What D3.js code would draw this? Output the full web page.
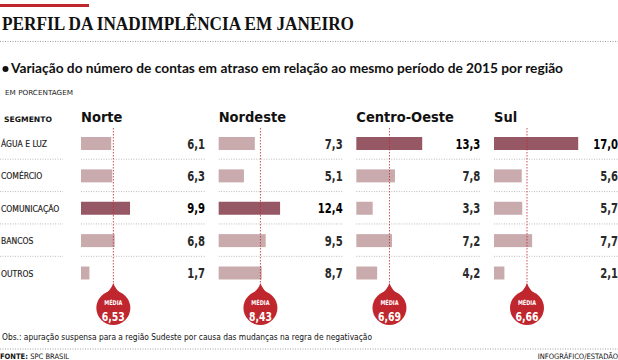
<!DOCTYPE html>
<html><head><meta charset="utf-8">
<script src="https://cdn.jsdelivr.net/npm/d3@7"></script>
<style>
body{margin:0;background:#fff;}
svg{display:block;}
.cond{font-family:"DejaVu Sans Condensed","Liberation Sans Narrow","Roboto",sans-serif;}
</style></head>
<body>
<svg id="c" width="618" height="360"></svg>
<script>
const segments = ["ÁGUA E LUZ","COMÉRCIO","COMUNICAÇÃO","BANCOS","OUTROS"];
const regions = ["Norte","Nordeste","Centro-Oeste","Sul"];
const valuesNorte = [6.1,6.3,9.9,6.8,1.7];
const valuesNordeste = [7.3,5.1,12.4,9.5,8.7];
const valuesCentroOeste = [13.3,7.8,3.3,7.2,4.2];
const valuesSul = [17.0,5.6,5.7,7.7,2.1];
const means = [6.53,8.43,6.69,6.66];
const seriesValues = [valuesNorte,valuesNordeste,valuesCentroOeste,valuesSul];

const fmt = v => d3.format(".1f")(v).replace(".",",");
const fmt2 = v => d3.format(".2f")(v).replace(".",",");

const svg = d3.select("#c");
const RED = "#c0262d", LIGHT = "#c9abae", DARK = "#965864";

// header
svg.append("rect").attr("x",0).attr("y",4).attr("width",89).attr("height",3).attr("fill",RED);
svg.append("text").attr("x",2).attr("y",30)
  .attr("font-family","Liberation Serif, serif").attr("font-weight","bold").attr("font-size",18.5)
  .attr("textLength",352).attr("lengthAdjust","spacingAndGlyphs").attr("fill","#111")
  .text("PERFIL DA INADIMPLÊNCIA EM JANEIRO");
const dotted = (y,x1,x2,col) => svg.append("line").attr("x1",x1).attr("x2",x2).attr("y1",y).attr("y2",y)
  .attr("stroke",col||"#999").attr("stroke-width",0.8).attr("stroke-dasharray","1,1.5");
dotted(41.5,0,618,"#888");
svg.append("circle").attr("cx",5.5).attr("cy",69).attr("r",3).attr("fill","#111");
svg.append("text").attr("x",11).attr("y",73)
  .attr("font-family","Lato, sans-serif").attr("font-weight","bold").attr("font-size",13.2)
  .attr("textLength",552).attr("lengthAdjust","spacingAndGlyphs").attr("fill","#111")
  .text("Variação do número de contas em atraso em relação ao mesmo período de 2015 por região");
svg.append("text").attr("class","cond").attr("x",5).attr("y",95).attr("font-size",7)
  .attr("textLength",68).attr("lengthAdjust","spacingAndGlyphs").attr("fill","#222").text("EM PORCENTAGEM");
svg.append("text").attr("class","cond").attr("x",4).attr("y",122).attr("font-size",7.5).attr("font-weight","bold")
  .attr("textLength",48).attr("lengthAdjust","spacingAndGlyphs").attr("fill","#111").text("SEGMENTO");

// scales
const y = d3.scalePoint().domain(segments).range([143.5,273]);
const colX = d3.scalePoint().domain(regions).range([81,494]);
const w = d3.scaleLinear().domain([0,17]).range([0,84.2]);
const barH = 13;
const valRight = 124;

// row labels
svg.selectAll("text.seg").data(segments).join("text").attr("class","cond seg")
  .attr("x",1).attr("y",d=>y(d)+3.5).attr("font-size",8.5).attr("fill","#1a1a1a")
  .attr("stroke","#1a1a1a").attr("stroke-width",0.15).text(d=>d);

// separators
const sepY = segments.slice(0,-1).map((d,i)=> (y(d)+y(segments[i+1]))/2 - 0.5);
sepY.forEach(sy=>{
  dotted(sy,0,63,"#aaa");
  regions.forEach(r=> dotted(sy,colX(r),Math.min(colX(r)+valRight,618),"#aaa"));
});

regions.forEach((r,ri)=>{
  const x0 = colX(r);
  const vals = seriesValues[ri];
  const mx = d3.max(vals);
  const g = svg.append("g");
  g.append("text").attr("x",x0).attr("y",122).attr("font-family","DejaVu Sans Condensed, sans-serif")
    .attr("font-weight","bold").attr("font-size",14.5).attr("fill","#111").text(r);
  g.selectAll("rect").data(vals).join("rect")
    .attr("x",x0).attr("y",(d,i)=>y(segments[i])-barH/2)
    .attr("width",d=>w(d)).attr("height",barH)
    .attr("fill",d=>d===mx?DARK:LIGHT);
  g.selectAll("text.v").data(vals).join("text").attr("class","cond v")
    .attr("transform",(d,i)=>`translate(${x0+valRight},${y(segments[i])+5}) scale(0.8,1)`)
    .attr("text-anchor","end").attr("font-size",14).attr("font-weight","bold")
    .attr("fill",d=>d===mx?"#000":"#2a2a2a").text(fmt);
  // mean
  const mxPos = x0 + w(means[ri]);
  const cy = 308, rr = 17;
  g.append("line").attr("x1",mxPos).attr("x2",mxPos).attr("y1",128).attr("y2",cy-rr-4)
    .attr("stroke",RED).attr("stroke-width",0.8).attr("stroke-dasharray","1.5,1.5");
  g.append("path").attr("d",`M${mxPos-10},${cy-rr+4} Q${mxPos-2},${cy-rr-1} ${mxPos},${cy-rr-8} Q${mxPos+2},${cy-rr-1} ${mxPos+10},${cy-rr+4} Z`).attr("fill",RED);
  g.append("circle").attr("cx",mxPos).attr("cy",cy).attr("r",rr).attr("fill",RED);
  g.append("text").attr("class","cond").attr("transform",`translate(${mxPos},${cy-3.5}) scale(0.85,1)`).attr("text-anchor","middle")
    .attr("font-size",6.5).attr("font-weight","bold").attr("fill","#fff").text("MÉDIA");
  g.append("text").attr("class","cond").attr("transform",`translate(${mxPos},${cy+12.5}) scale(0.8,1)`).attr("text-anchor","middle")
    .attr("font-size",13).attr("font-weight","bold").attr("fill","#fff").text(fmt2(means[ri]));
});

// footer
svg.append("text").attr("class","cond").attr("x",2).attr("y",340).attr("font-size",8.5)
  .attr("textLength",370).attr("lengthAdjust","spacingAndGlyphs").attr("fill","#111")
  .text("Obs.: apuração suspensa para a região Sudeste por causa das mudanças na regra de negativação");
dotted(349,0,618,"#888");
const ft = svg.append("text").attr("class","cond").attr("x",0).attr("y",358.5).attr("font-size",7.5).attr("fill","#111");
ft.append("tspan").attr("font-weight","bold").text("FONTE: ");
ft.append("tspan").text("SPC BRASIL");
svg.append("text").attr("class","cond").attr("x",618).attr("y",358.5).attr("text-anchor","end").attr("font-size",7.5)
  .attr("fill","#111").text("INFOGRÁFICO/ESTADÃO");
</script>
</body></html>
